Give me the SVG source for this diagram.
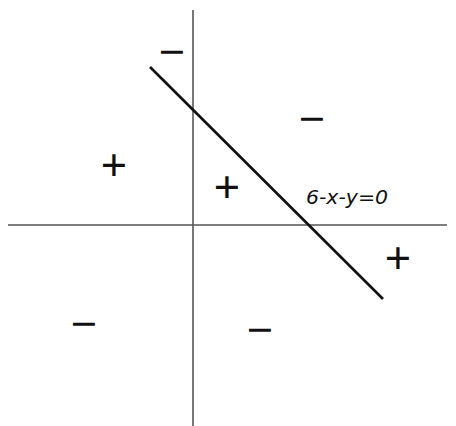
<svg xmlns="http://www.w3.org/2000/svg" width="456" height="426" viewBox="0 0 456 426">
<style>
.ax{stroke:#555;stroke-width:1.6;fill:none}
.ln{stroke:#111;stroke-width:2.6;fill:none}
.s{font-family:"Liberation Sans",Arial,sans-serif;font-size:45px;fill:#111;text-anchor:middle}
.lb{font-family:"DejaVu Sans","Liberation Sans",sans-serif;font-style:italic;font-size:19px;fill:#111}
</style>
<rect width="456" height="426" fill="#fff"/>
<g id="connectors">
<line class="ax" x1="193" y1="10" x2="193" y2="426"/>
<line class="ax" x1="8" y1="225" x2="447" y2="225"/>
<line class="ln" x1="150" y1="67" x2="383" y2="299"/>
</g>
<g id="signs">
<text class="s" x="172" y="67">−</text>
<text class="s" x="312" y="134">−</text>
<text class="s" x="114" y="180">+</text>
<text class="s" x="227" y="202">+</text>
<text class="s" x="398" y="273">+</text>
<text class="s" x="84" y="339">−</text>
<text class="s" x="260" y="345">−</text>
</g>
<g id="label">
<text class="lb" x="306" y="204" textLength="82" lengthAdjust="spacingAndGlyphs">6-x-y=0</text>
</g>
</svg>
